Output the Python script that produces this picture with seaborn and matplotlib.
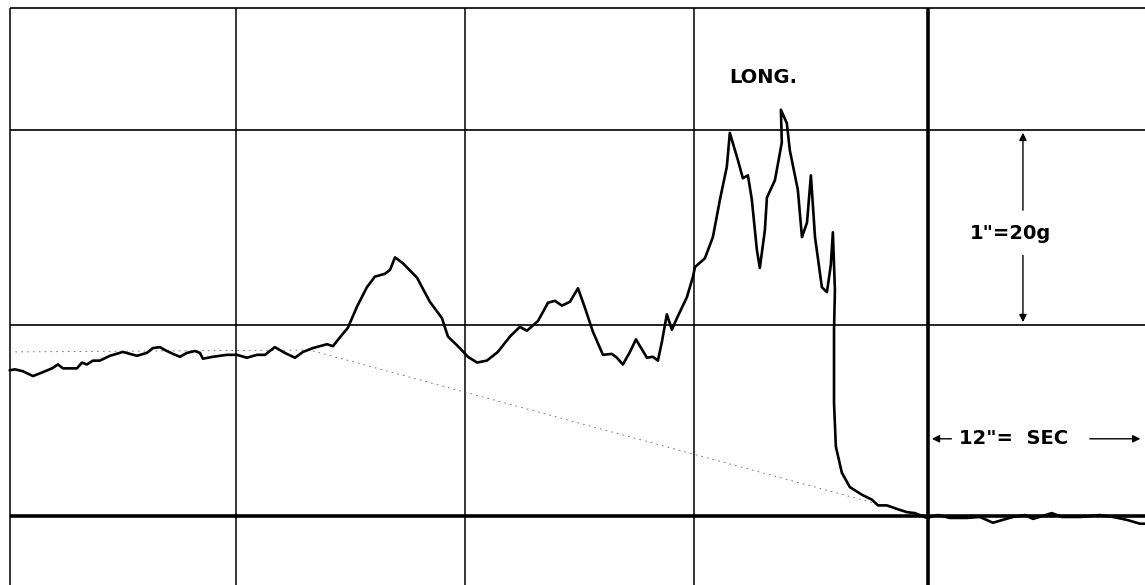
import pandas as pd
import matplotlib
matplotlib.use('Agg')
import matplotlib.pyplot as plt
import seaborn as sns

sns.set_style('white')

# time in ms (0 = thick vertical line), acceleration in g
t_ms = [-401, -398.7, -395.2, -390.8, -386.5, -382.5, -379.9, -377.7, -371.6, -369.4,
        -367.3, -364.6, -361.6, -357.2, -351.5, -345.4, -341.1, -338.4, -335.4, -333.2,
        -329.7, -326.6, -323.6, -320.1, -317.9, -316.6, -312.2, -306.1, -301.7,
        -297.4, -293.0, -289.5, -285.2, -280.8, -276.4, -272.9, -268.6, -262.4, -259.8,
        -256.8, -253.3, -249.3, -245.0, -241.5, -237.1, -234.9, -232.7, -229.3, -223.1,
        -217.5, -212.2, -209.6, -204.4, -200.9,
        -196.9, -192.6, -187.8, -182.5, -178.2, -175.1, -170.3, -165.9, -162.9, -159.8,
        -156.3, -152.8, -149.8, -146.3, -141.9, -138.0, -135.8, -133.2, -130.1, -127.5,
        -122.7, -120.1, -117.9, -116.2, -114.0, -111.8, -109.6, -105.2, -102.6,
        -101.7, -97.4, -93.9, -90.8, -87.8, -86.5, -83.0, -80.8, -78.6, -76.9,
        -74.7, -73.4, -71.2, -70.3, -66.8, -63.8, -64.2, -61.6, -60.3, -56.8,
        -55.0, -52.8, -51.1, -49.3, -46.3, -44.1, -42.4, -41.5, -40.6, -41.0,
        -41.0, -40.2, -37.6, -34.1, -28.8, -24.5, -21.8, -17.9, -13.1, -9.2,
        -5.7, -0.4, 4.4, 9.6, 17.0, 22.7, 28.4, 37.1, 42.4, 45.9,
        54.1, 58.5, 66.4, 75.1, 80.8, 86.9, 92.6, 94.8]
accel_g = [15.1, 15.2, 15.0, 14.5, 14.9, 15.3, 15.7, 15.3, 15.3, 15.9,
           15.7, 16.1, 16.1, 16.6, 17.0, 16.6, 16.9, 17.4, 17.5, 17.2,
           16.8, 16.5, 16.9, 17.1, 16.9, 16.3, 16.5, 16.7, 16.7,
           16.4, 16.7, 16.7, 17.5, 16.9, 16.4, 17.0, 17.4, 17.8, 17.6,
           18.5, 19.5, 21.7, 23.7, 24.8, 25.1, 25.5, 26.8, 26.2, 24.7,
           22.2, 20.5, 18.6, 17.4, 16.5,
           15.9, 16.1, 17.0, 18.6, 19.6, 19.2, 20.2, 22.1, 22.3, 21.8,
           22.2, 23.6, 21.6, 19.1, 16.7, 16.8, 16.4, 15.7, 17.0, 18.3,
           16.4, 16.5, 16.1, 18.0, 20.9, 19.3, 20.5, 22.7, 24.8,
           25.8, 26.7, 28.9, 32.8, 36.2, 39.7, 36.9, 35.0, 35.3, 32.8,
           27.6, 25.7, 29.6, 33.0, 34.8, 38.7, 42.1, 40.7, 37.9, 33.8,
           28.9, 30.4, 35.3, 28.9, 23.7, 23.2, 26.0, 29.4, 23.4, 19.3,
           11.7, 7.2, 4.5, 3.0, 2.2, 1.7, 1.1, 1.1, 0.7, 0.4,
           0.3, -0.2, 0.1, -0.2, -0.2, -0.1, -0.7, -0.1, 0.1, -0.3,
           0.3, -0.1, -0.1, 0.1, -0.1, -0.4, -0.8, -0.8]

# faint reference line drawn on the record
ref_t = [-401, -270, -12]
ref_g = [17.0, 17.2, 0.6]

# grid of the record
grid_t = [-302, -202, -102]
grid_g = [19.8, 40.0]
border_t = -401
border_g = 52.6

df = pd.DataFrame({'t': t_ms, 'g': accel_g})

fig = plt.figure(figsize=(11.45, 5.85), dpi=100)
ax = fig.add_axes([0, 0, 1, 1])
ax.set_xlim(-405.2, 94.8)
ax.set_ylim(-7.15, 53.47)
ax.axis('off')

# grid lines
ax.vlines(grid_t, -7.15, border_g, color='black', lw=1.1)
ax.vlines([border_t], -7.15, border_g, color='black', lw=1.1)
ax.vlines([0], -7.15, border_g, color='black', lw=2.6)
ax.hlines(grid_g, border_t, 94.8, color='black', lw=1.2)
ax.hlines([border_g], border_t, 94.8, color='black', lw=1.2)
ax.hlines([0], border_t, 94.8, color='black', lw=2.6)

ax.plot(ref_t, ref_g, color='#666666', lw=0.6, ls=(0, (2, 5)))

sns.lineplot(data=df, x='t', y='g', sort=False, estimator=None,
             color='black', lw=1.9, ax=ax)

txt = dict(color='black', fontweight='bold', ha='center', va='center',
           family='DejaVu Sans')
ax.text(-72, 45.4, 'LONG.', fontsize=14, **txt)
ax.text(36.2, 29.3, '1"=20g', fontsize=14, **txt)
ax.text(37.6, 8.0, '12"=  SEC', fontsize=14, **txt)

arr = dict(arrowstyle='-|>', color='black', lw=1.0, mutation_scale=11)
ax.annotate('', xy=(41.5, 40.0), xytext=(41.5, 31.4), arrowprops=arr)
ax.annotate('', xy=(41.5, 19.8), xytext=(41.5, 27.3), arrowprops=arr)
ax.annotate('', xy=(0.5, 8.0), xytext=(11.5, 8.0), arrowprops=arr)
ax.annotate('', xy=(94.0, 8.0), xytext=(69.5, 8.0), arrowprops=arr)

plt.savefig('out.png', dpi=100)
